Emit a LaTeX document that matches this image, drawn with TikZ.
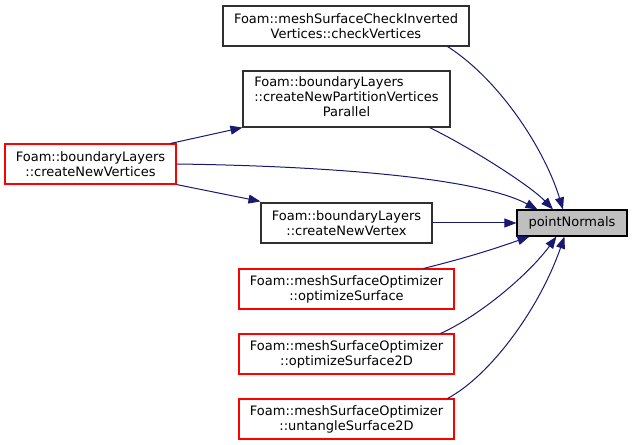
\documentclass[tikz,border=0pt]{standalone}
\usepackage{fontspec}
\setmainfont{DejaVu Sans}
\usetikzlibrary{arrows.meta}
\definecolor{edgeblue}{RGB}{25,25,112}
\definecolor{boxgray}{RGB}{48,48,48}
\definecolor{boxred}{RGB}{255,0,0}
\definecolor{hlfill}{RGB}{191,191,191}
\tikzset{
  fn/.style={draw=boxgray, line width=1.1bp, fill=white, inner sep=0pt, align=center,
    font=\fontsize{13bp}{15bp}\selectfont},
  fnred/.style={fn, draw=boxred},
  fnhl/.style={fn, fill=hlfill, draw=black},
  call/.style={draw=edgeblue, line width=1bp, -{Triangle[length=12bp,width=9bp]}},
}
\begin{document}
\begin{tikzpicture}[x=1bp, y=-1bp]
\useasboundingbox (0,0) rectangle (633,445);
\node[fn, minimum width=246bp, minimum height=40bp] (checkV) at (346,26)
  {Foam::meshSurfaceCheckInverted\\Vertices::checkVertices};
\node[fn, minimum width=207bp, minimum height=56bp] (cnpvp) at (346.5,99)
  {\begin{tabular}{@{}l@{}}Foam::boundaryLayers\\::createNewPartitionVertices\\\multicolumn{1}{@{}c@{}}{Parallel}\end{tabular}};
\node[fnred, minimum width=171bp, minimum height=40bp] (cnv) at (90.5,164)
  {Foam::boundaryLayers\\::createNewVertices};
\node[fn, minimum width=171bp, minimum height=40bp] (cnvx) at (346.5,223)
  {Foam::boundaryLayers\\::createNewVertex};
\node[fnhl, minimum width=110bp, minimum height=26bp] (pN) at (572,223) {pointNormals};
\node[fnred, minimum width=215bp, minimum height=40bp] (optS) at (346.5,289)
  {Foam::meshSurfaceOptimizer\\::optimizeSurface};
\node[fnred, minimum width=215bp, minimum height=40bp] (opt2D) at (346.5,354)
  {Foam::meshSurfaceOptimizer\\::optimizeSurface2D};
\node[fnred, minimum width=215bp, minimum height=40bp] (unt) at (346.5,419)
  {Foam::meshSurfaceOptimizer\\::untangleSurface2D};

\draw[call] ([xshift=-22bp]checkV.south east) .. controls +(53,34) and +(-18,-59) .. ([xshift=-9bp]pN.north);
\draw[call] ([xshift=-21bp]cnpvp.south east) .. controls +(41,20) and +(-23,-24) .. ([xshift=-19bp]pN.north);
\draw[call] (cnv.east) .. controls +(150,2) and +(-60,-32) .. ([xshift=21bp]pN.north west);
\draw[call] (cnvx.east) -- (pN.west);
\draw[call] ([xshift=-31bp]optS.north east) .. controls +(40,-10) and +(-40,14) .. ([xshift=13bp]pN.south west);
\draw[call] ([xshift=-14bp]opt2D.north east) .. controls +(40,-18) and +(-27,37) .. ([xshift=40bp]pN.south west);
\draw[call] ([xshift=-7bp]unt.north east) .. controls +(43,-23) and +(-25,72) .. ([xshift=48bp]pN.south west);
\draw[call] ([xshift=-6bp]cnv.north east) -- (cnpvp.south west);
\draw[call] (cnv.south east) -- ([yshift=1bp]cnvx.north west);
\end{tikzpicture}
\end{document}
